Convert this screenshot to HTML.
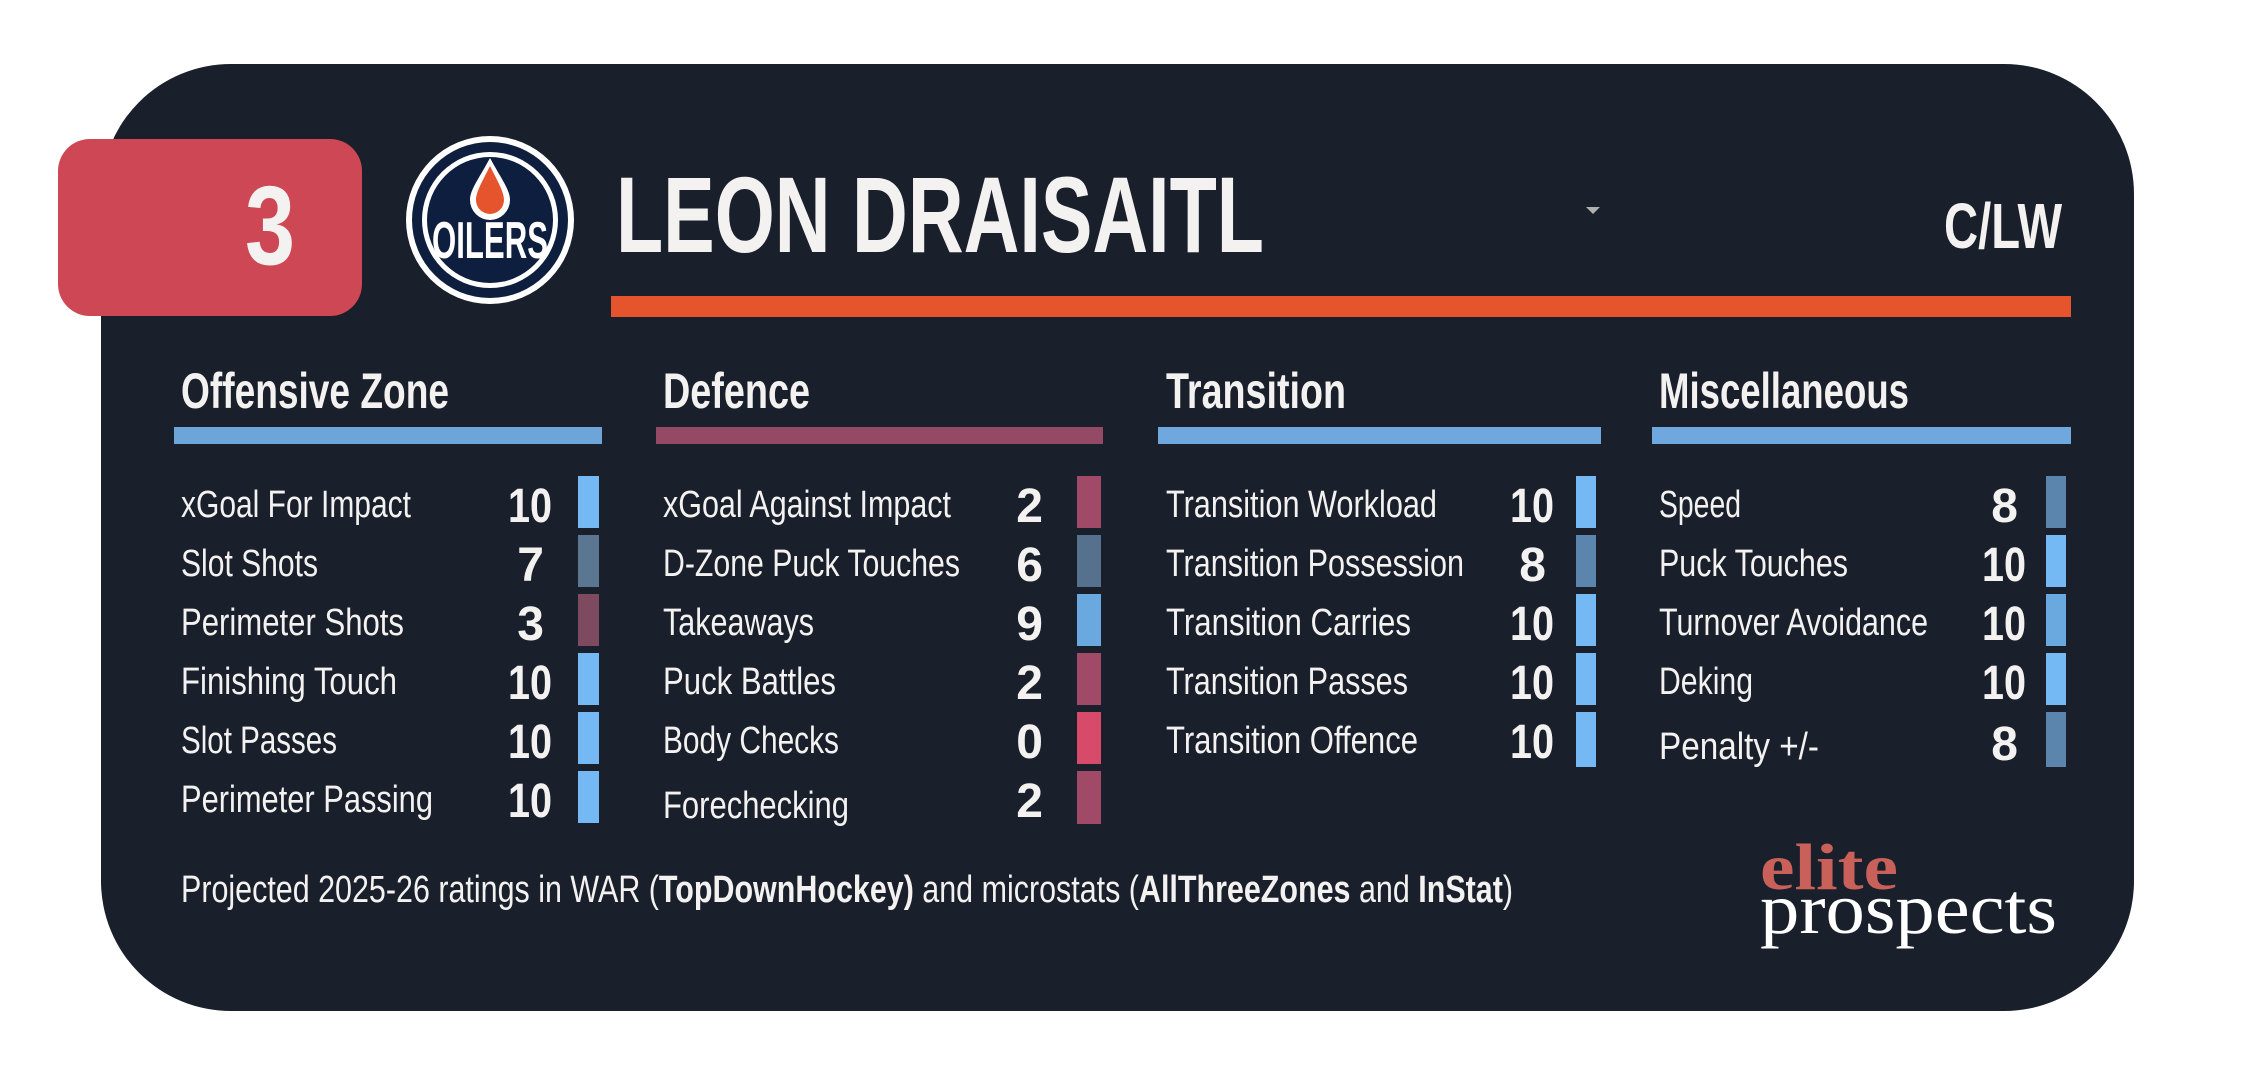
<!DOCTYPE html>
<html><head><meta charset="utf-8"><style>
html,body{margin:0;padding:0;background:#fff;}
svg{display:block;}
text{font-family:"Liberation Sans",sans-serif;fill:#f4f2f1;}
.lb{font-size:38px;}
.nm{font-size:48px;font-weight:bold;text-anchor:end;}
.hd{font-size:50px;font-weight:bold;}
</style></head><body>
<svg width="2258" height="1070" viewBox="0 0 2258 1070" xmlns="http://www.w3.org/2000/svg">
<rect x="0" y="0" width="2258" height="1070" fill="#fff"/>
<rect x="101" y="64" width="2033" height="947" rx="130" ry="130" fill="#1a202b"/>
<rect x="58" y="139" width="304" height="177" rx="32" ry="32" fill="#cd4754"/>
<text x="270" y="264" font-size="112" font-weight="bold" text-anchor="middle" textLength="50" lengthAdjust="spacingAndGlyphs">3</text>
<!-- logo -->
<circle cx="490" cy="220" r="84" fill="#fff"/>
<circle cx="490" cy="220" r="78" fill="#0d1e3f"/>
<circle cx="490" cy="220" r="68" fill="#fff"/>
<circle cx="490" cy="220" r="63" fill="#0d1e3f"/>
<path d="M490 158 C478 180 470 190 470 200 a20 20 0 0 0 40 0 C510 190 502 180 490 158Z" fill="#fff"/>
<path d="M490 166 C482 182 476 192 476 200 a14 14 0 0 0 28 0 C504 192 498 182 490 166Z" fill="#e5542c"/>
<text x="432" y="258" font-size="52" font-weight="bold" textLength="116" lengthAdjust="spacingAndGlyphs" style="fill:#fff">OILERS</text>
<text x="616" y="252" font-size="108" font-weight="bold" textLength="648" lengthAdjust="spacingAndGlyphs">LEON DRAISAITL</text>
<path d="M1586 207 L1600 207 L1593 214Z" fill="#b0b0b0"/>
<text x="1944" y="248" font-size="64" font-weight="bold" textLength="118" lengthAdjust="spacingAndGlyphs">C/LW</text>
<rect x="611" y="296" width="1460" height="21" fill="#e5542c"/>
<!-- headers -->
<text class="hd" x="181" y="408" textLength="268" lengthAdjust="spacingAndGlyphs">Offensive Zone</text>
<text class="hd" x="663" y="408" textLength="147" lengthAdjust="spacingAndGlyphs">Defence</text>
<text class="hd" x="1166" y="408" textLength="180" lengthAdjust="spacingAndGlyphs">Transition</text>
<text class="hd" x="1659" y="408" textLength="250" lengthAdjust="spacingAndGlyphs">Miscellaneous</text>
<rect x="174" y="427" width="428" height="17" fill="#6ea5d8"/>
<rect x="656" y="427" width="447" height="17" fill="#944a64"/>
<rect x="1158" y="427" width="443" height="17" fill="#6ea8df"/>
<rect x="1652" y="427" width="419" height="17" fill="#6ea8df"/>
<!-- offensive -->
<g>
<text class="lb" x="181" y="517" textLength="230" lengthAdjust="spacingAndGlyphs">xGoal For Impact</text>
<text class="lb" x="181" y="576" textLength="137" lengthAdjust="spacingAndGlyphs">Slot Shots</text>
<text class="lb" x="181" y="635" textLength="223" lengthAdjust="spacingAndGlyphs">Perimeter Shots</text>
<text class="lb" x="181" y="694" textLength="216" lengthAdjust="spacingAndGlyphs">Finishing Touch</text>
<text class="lb" x="181" y="753" textLength="156" lengthAdjust="spacingAndGlyphs">Slot Passes</text>
<text class="lb" x="181" y="812" textLength="252" lengthAdjust="spacingAndGlyphs">Perimeter Passing</text>
<text class="nm" x="552" y="522" textLength="44" lengthAdjust="spacingAndGlyphs">10</text>
<text class="nm" x="544" y="581">7</text>
<text class="nm" x="544" y="640">3</text>
<text class="nm" x="552" y="699" textLength="44" lengthAdjust="spacingAndGlyphs">10</text>
<text class="nm" x="552" y="758" textLength="44" lengthAdjust="spacingAndGlyphs">10</text>
<text class="nm" x="552" y="817" textLength="44" lengthAdjust="spacingAndGlyphs">10</text>
<rect x="578" y="476" width="21" height="52" fill="#74b9f4"/>
<rect x="578" y="535" width="21" height="52" fill="#5b7691"/>
<rect x="578" y="594" width="21" height="52" fill="#7e4a60"/>
<rect x="578" y="653" width="21" height="52" fill="#74b9f4"/>
<rect x="578" y="712" width="21" height="52" fill="#74b9f4"/>
<rect x="578" y="771" width="21" height="52" fill="#74b9f4"/>
</g>
<!-- defence -->
<g>
<text class="lb" x="663" y="517" textLength="288" lengthAdjust="spacingAndGlyphs">xGoal Against Impact</text>
<text class="lb" x="663" y="576" textLength="297" lengthAdjust="spacingAndGlyphs">D-Zone Puck Touches</text>
<text class="lb" x="663" y="635" textLength="151" lengthAdjust="spacingAndGlyphs">Takeaways</text>
<text class="lb" x="663" y="694" textLength="173" lengthAdjust="spacingAndGlyphs">Puck Battles</text>
<text class="lb" x="663" y="753" textLength="176" lengthAdjust="spacingAndGlyphs">Body Checks</text>
<text class="lb" x="663" y="818" textLength="186" lengthAdjust="spacingAndGlyphs">Forechecking</text>
<text class="nm" x="1043" y="522">2</text>
<text class="nm" x="1043" y="581">6</text>
<text class="nm" x="1043" y="640">9</text>
<text class="nm" x="1043" y="699">2</text>
<text class="nm" x="1043" y="758">0</text>
<text class="nm" x="1043" y="817">2</text>
<rect x="1077" y="476" width="24" height="52" fill="#a04a67"/>
<rect x="1077" y="535" width="24" height="52" fill="#56718e"/>
<rect x="1077" y="594" width="24" height="52" fill="#6aa8e0"/>
<rect x="1077" y="653" width="24" height="52" fill="#a04a67"/>
<rect x="1077" y="712" width="24" height="52" fill="#d84a6a"/>
<rect x="1077" y="771" width="24" height="53" fill="#a04a67"/>
</g>
<!-- transition -->
<g>
<text class="lb" x="1166" y="517" textLength="271" lengthAdjust="spacingAndGlyphs">Transition Workload</text>
<text class="lb" x="1166" y="576" textLength="298" lengthAdjust="spacingAndGlyphs">Transition Possession</text>
<text class="lb" x="1166" y="635" textLength="245" lengthAdjust="spacingAndGlyphs">Transition Carries</text>
<text class="lb" x="1166" y="694" textLength="242" lengthAdjust="spacingAndGlyphs">Transition Passes</text>
<text class="lb" x="1166" y="753" textLength="252" lengthAdjust="spacingAndGlyphs">Transition Offence</text>
<text class="nm" x="1554" y="522" textLength="44" lengthAdjust="spacingAndGlyphs">10</text>
<text class="nm" x="1546" y="581">8</text>
<text class="nm" x="1554" y="640" textLength="44" lengthAdjust="spacingAndGlyphs">10</text>
<text class="nm" x="1554" y="699" textLength="44" lengthAdjust="spacingAndGlyphs">10</text>
<text class="nm" x="1554" y="758" textLength="44" lengthAdjust="spacingAndGlyphs">10</text>
<rect x="1576" y="476" width="20" height="52" fill="#74b9f4"/>
<rect x="1576" y="535" width="20" height="52" fill="#5b85ad"/>
<rect x="1576" y="594" width="20" height="52" fill="#74b9f4"/>
<rect x="1576" y="653" width="20" height="52" fill="#74b9f4"/>
<rect x="1576" y="712" width="20" height="55" fill="#74b9f4"/>
</g>
<!-- misc -->
<g>
<text class="lb" x="1659" y="517" textLength="82" lengthAdjust="spacingAndGlyphs">Speed</text>
<text class="lb" x="1659" y="576" textLength="189" lengthAdjust="spacingAndGlyphs">Puck Touches</text>
<text class="lb" x="1659" y="635" textLength="269" lengthAdjust="spacingAndGlyphs">Turnover Avoidance</text>
<text class="lb" x="1659" y="694" textLength="94" lengthAdjust="spacingAndGlyphs">Deking</text>
<text class="lb" x="1659" y="759" textLength="160" lengthAdjust="spacingAndGlyphs">Penalty +/-</text>
<text class="nm" x="2018" y="522">8</text>
<text class="nm" x="2026" y="581" textLength="44" lengthAdjust="spacingAndGlyphs">10</text>
<text class="nm" x="2026" y="640" textLength="44" lengthAdjust="spacingAndGlyphs">10</text>
<text class="nm" x="2026" y="699" textLength="44" lengthAdjust="spacingAndGlyphs">10</text>
<text class="nm" x="2018" y="760">8</text>
<rect x="2046" y="476" width="20" height="52" fill="#5b85ad"/>
<rect x="2046" y="535" width="20" height="52" fill="#74b9f4"/>
<rect x="2046" y="594" width="20" height="52" fill="#6aa8e0"/>
<rect x="2046" y="653" width="20" height="52" fill="#74b9f4"/>
<rect x="2046" y="712" width="20" height="55" fill="#5b85ad"/>
</g>
<!-- footer -->
<text x="181" y="902" font-size="38" textLength="1332" lengthAdjust="spacingAndGlyphs">Projected 2025-26 ratings in WAR (<tspan font-weight="bold">TopDownHockey)</tspan> and microstats (<tspan font-weight="bold">AllThreeZones</tspan> and <tspan font-weight="bold">InStat</tspan>)</text>
<text x="1760" y="889" font-size="66" font-weight="bold" textLength="138" lengthAdjust="spacingAndGlyphs" style="font-family:'Liberation Serif',serif;fill:#c9605a">elite</text>
<text x="1760" y="933" font-size="72" textLength="297" lengthAdjust="spacingAndGlyphs" style="font-family:'Liberation Serif',serif;fill:#fff">prospects</text>
</svg>
</body></html>
